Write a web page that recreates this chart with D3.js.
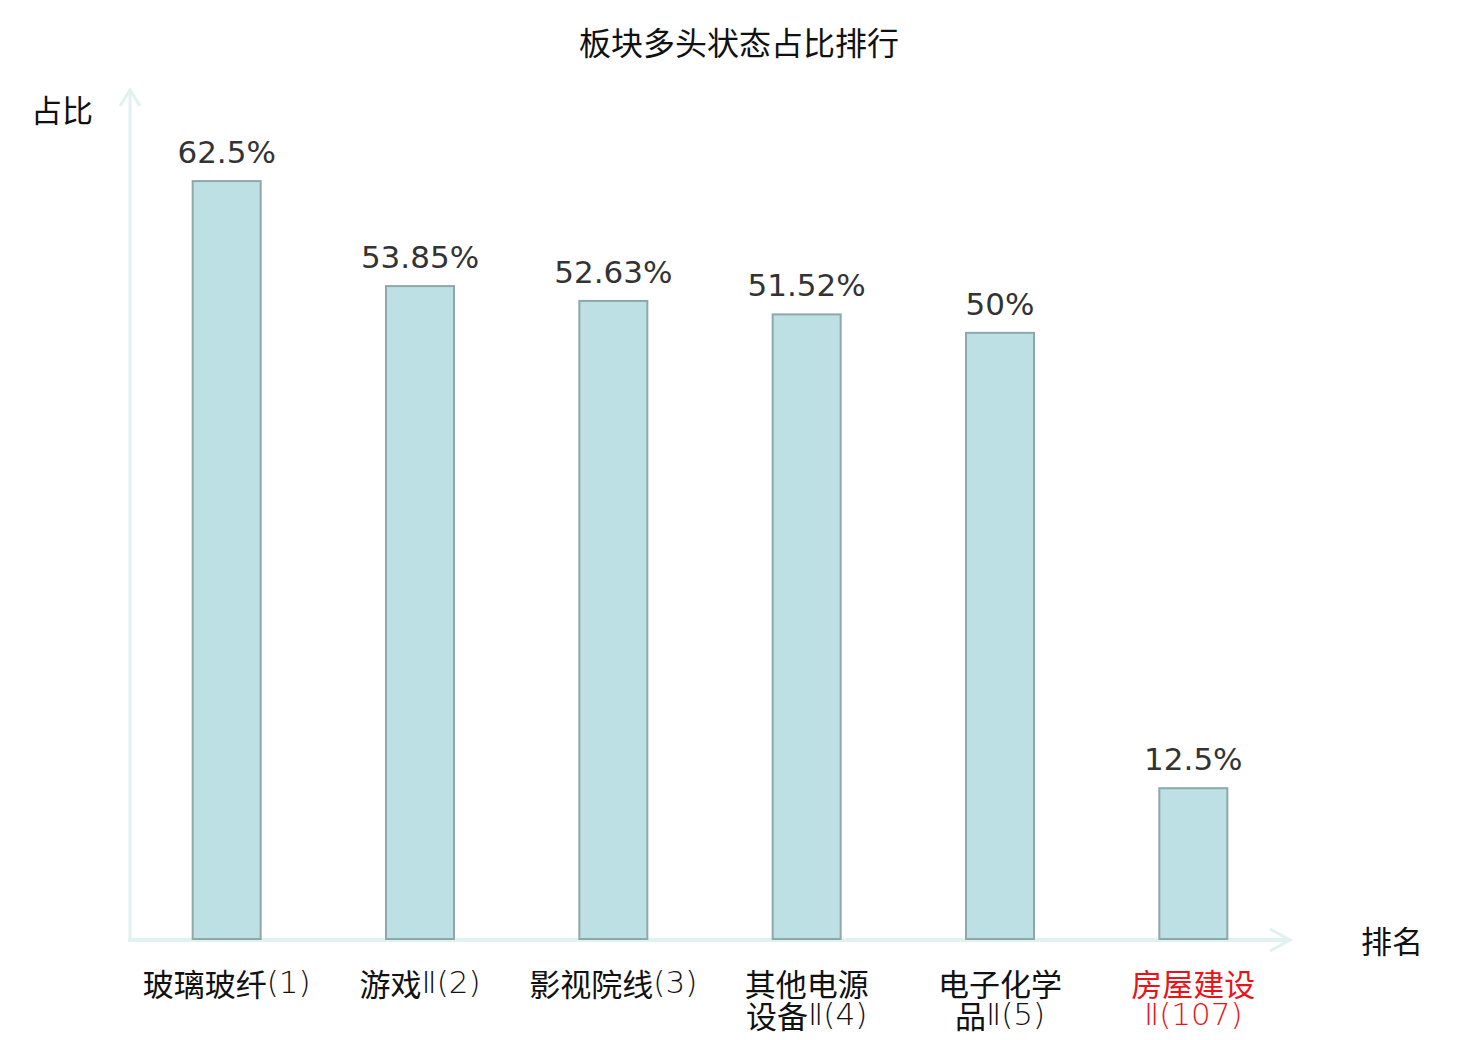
<!DOCTYPE html>
<html>
<head>
<meta charset="utf-8">
<script src="https://cdn.jsdelivr.net/npm/d3@7"></script>
<style>
  body { margin: 0; background: #fff; }
  svg text { font-family: "Noto Sans CJK SC", sans-serif; }
</style>
</head>
<body>
<svg id="viz" width="1480" height="1040"></svg>
<script>
// chart data
var categories = ['玻璃玻纤(1)', '游戏Ⅱ(2)', '影视院线(3)', '其他电源\n设备Ⅱ(4)', '电子化学\n品Ⅱ(5)', '房屋建设\nⅡ(107)'];
var values = [62.5, 53.85, 52.63, 51.52, 50, 12.5];
var valueLabels = ['62.5%', '53.85%', '52.63%', '51.52%', '50%', '12.5%'];
var highlighted = [false, false, false, false, false, true];

var svg = d3.select('#viz');
var axisColor = '#dff2f0';

var x = d3.scaleBand()
  .domain(categories)
  .range([130, 1290]);

var y = d3.scaleLinear().domain([0, 70]).range([940, 90]);

var barW = 68;

// title
svg.append('text')
  .attr('x', 739)
  .attr('y', 41)
  .attr('text-anchor', 'middle')
  .attr('dominant-baseline', 'central')
  .style('font-size', '32px')
  .style('fill', '#111')
  .text('板块多头状态占比排行');

// axes with arrows
svg.append('line')
  .attr('x1', 130).attr('y1', y(0))
  .attr('x2', 130).attr('y2', 90)
  .attr('stroke', axisColor).attr('stroke-width', 3);
svg.append('path')
  .attr('d', 'M120,106 L130,90 L140,106')
  .attr('fill', 'none').attr('stroke', axisColor).attr('stroke-width', 3);

svg.append('line')
  .attr('x1', 128).attr('y1', y(0))
  .attr('x2', 1290).attr('y2', y(0))
  .attr('stroke', axisColor).attr('stroke-width', 4);
svg.append('path')
  .attr('d', 'M1270,929 L1290,940 L1270,951')
  .attr('fill', 'none').attr('stroke', axisColor).attr('stroke-width', 3);

// axis names
svg.append('text')
  .attr('x', 93).attr('y', 108)
  .attr('text-anchor', 'end')
  .attr('dominant-baseline', 'central')
  .style('font-size', '31px')
  .style('fill', '#111')
  .text('占比');

svg.append('text')
  .attr('x', 1361).attr('y', 939)
  .attr('dominant-baseline', 'central')
  .style('font-size', '31px')
  .style('fill', '#111')
  .text('排名');

// bars
svg.selectAll('rect.bar')
  .data(values)
  .enter()
  .append('rect')
  .attr('class', 'bar')
  .attr('x', function (d, i) { return x(categories[i]) + x.bandwidth() / 2 - barW / 2; })
  .attr('y', function (d) { return y(d); })
  .attr('width', barW)
  .attr('height', function (d) { return y(0) - y(d) - 1; })
  .attr('fill', '#bce0e3')
  .attr('stroke', '#8ea8aa')
  .attr('stroke-width', 2);

// value labels
svg.selectAll('text.val')
  .data(values)
  .enter()
  .append('text')
  .attr('class', 'val')
  .attr('x', function (d, i) { return x(categories[i]) + x.bandwidth() / 2; })
  .attr('y', function (d) { return y(d) - 18; })
  .attr('text-anchor', 'middle')
  .style('font-family', '"DejaVu Sans", sans-serif')
  .style('font-size', '31px')
  .style('fill', '#333')
  .text(function (d, i) { return valueLabels[i]; });

// category labels: one text per line, latin runs in a thin face
categories.forEach(function (c, i) {
  var cx = x(c) + x.bandwidth() / 2;
  c.split('\n').forEach(function (l, j) {
    var t = svg.append('text')
      .attr('x', cx)
      .attr('y', 982 + j * 32)
      .attr('text-anchor', 'middle')
      .attr('dominant-baseline', 'central')
      .style('font-size', '31px')
      .style('fill', highlighted[i] ? '#e8141c' : '#111');
    var runs = l.match(/[\u4e00-\u9fff]+|[^\u4e00-\u9fff]+/g);
    runs.forEach(function (r) {
      var s = t.append('tspan').text(r);
      if (!/[\u4e00-\u9fff]/.test(r)) {
        s.style('font-family', '"DejaVu Sans", sans-serif')
          .style('font-weight', '200');
      }
    });
  });
});
</script>
</body>
</html>
